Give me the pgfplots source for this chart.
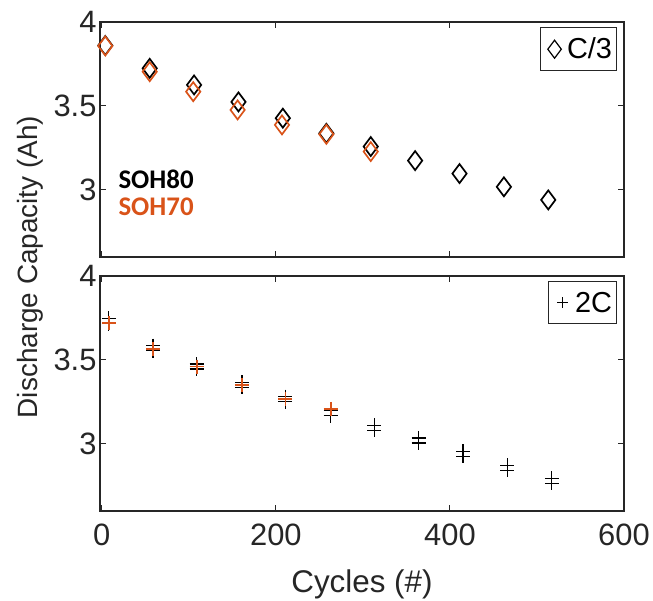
\documentclass[border=0pt]{standalone}
\usepackage{pgfplots}
\pgfplotsset{compat=1.18}
\usepackage{fontspec}
\setmainfont{Liberation Sans}
\newfontfamily\calibri{Carlito}
\definecolor{mlorange}{rgb}{0.850,0.325,0.098}
\definecolor{axgray}{rgb}{0.15,0.15,0.15}

\pgfplotsset{
  panel/.style={
    scale only axis, width=524bp, height=235bp,
    xmin=-2.1, xmax=600, ymin=2.6, ymax=4,
    xtick={0,200,400,600}, ytick={3,3.5,4},
    tick align=inside, tick pos=both,
    major tick length=6bp,
    axis line style={axgray, line width=1.2pt},
    every tick/.style={axgray, line width=1pt},
    tick label style={font=\fontsize{31}{34}\selectfont, text=axgray},
    xticklabel style={yshift=-9bp},
    /pgf/number format/assume math mode=true,
    legend style={draw=axgray, line width=1pt, font=\fontsize{29}{31}\selectfont,
      at={(rel axis cs:1,1)}, anchor=north east, xshift=-7.5bp, yshift=-5.5bp,
      inner xsep=2bp, inner ysep=8bp,
      cells={anchor=west, inner xsep=4bp}},
    legend image code/.code={%
      \path[draw=none, fill=none] (0bp,-6bp) rectangle (23bp,6bp);
      \draw[#1] plot coordinates {(12.5bp,0bp)};},
  },
  dia/.style={only marks, mark=diamond, mark size=9.5bp, line width=1.7pt},
  crs/.style={only marks, mark=+, mark size=7bp, line width=1.4pt},
}

\begin{document}
\begin{tikzpicture}
\useasboundingbox (0,0) rectangle (653bp,601bp);

% C/3 capacity checks
\begin{axis}[panel, at={(100bp,344bp)}, anchor=south west, xticklabels={}]
\addlegendimage{only marks, mark=diamond, mark size=9bp, line width=1.2pt, black}
\addlegendentry{C/3}
\addplot[dia, black, forget plot] coordinates {
 (4,3.860) (55,3.724) (106,3.625) (157,3.524) (208,3.427) (258,3.337)
 (309,3.258) (360,3.174) (411,3.097) (462,3.018) (513,2.940)};
\addplot[dia, mlorange, forget plot] coordinates {
 (4,3.857) (55,3.704) (105,3.585) (156,3.476) (207,3.387) (258,3.331)
 (309,3.228)};
\node[anchor=base west, font=\calibri\bfseries\fontsize{27}{29}\selectfont, text=black]
  at (rel axis cs:0.0286,0.292) {SOH80};
\node[anchor=base west, font=\calibri\bfseries\fontsize{27}{29}\selectfont, text=mlorange]
  at (rel axis cs:0.0286,0.1745) {SOH70};
\end{axis}

% 2C capacity checks
\begin{axis}[panel, at={(100bp,90bp)}, anchor=south west]
\addlegendimage{only marks, mark=+, mark size=5.5bp, line width=1pt, black}
\addlegendentry{2C}
\addplot[crs, black, forget plot] coordinates {
 (8,3.747) (59,3.585) (109,3.475) (161,3.366) (211,3.281) (263,3.198)
 (313,3.110) (364,3.035) (415,2.955) (466,2.872) (517,2.795)};
\addplot[crs, black, forget plot] coordinates {
 (8,3.717) (59,3.555) (109,3.445) (161,3.336) (211,3.251) (263,3.168)
 (313,3.080) (364,3.005) (415,2.925) (466,2.842) (517,2.765)};
\addplot[crs, mlorange, line width=1.7pt, forget plot] coordinates {
 (8,3.718) (59,3.565) (109,3.460) (161,3.351) (211,3.266) (263,3.208)};
\end{axis}

\node[rotate=90, anchor=center, text=axgray, font=\fontsize{28}{30}\selectfont]
  at (30bp,334bp) {Discharge Capacity (Ah)};
\node[anchor=base, text=axgray, font=\fontsize{31.5}{33}\selectfont]
  at (362bp,9bp) {Cycles (\#)};
\end{tikzpicture}
\end{document}
